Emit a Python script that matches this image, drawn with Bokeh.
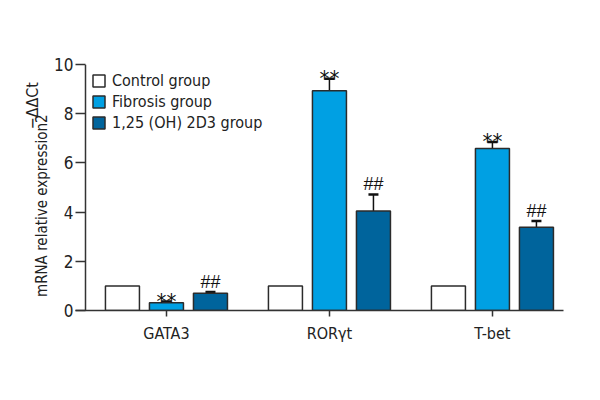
from bokeh.plotting import figure
from bokeh.models import Range1d, FixedTicker, ColumnDataSource, Whisker, TeeHead, Title
from bokeh.transform import dodge
from bokeh.core.properties import value
from bokeh.embed import file_html
from bokeh.resources import INLINE

# ---- data ----
genes = ["GATA3", "RORγt", "T-bet"]
series = ["Control group", "Fibrosis group", "1,25 (OH) 2D3 group"]
control = [1.0, 1.0, 1.0]
fibrosis = [0.32, 8.93, 6.59]
fibrosis_err = [0.05, 0.49, 0.26]
treated = [0.70, 4.04, 3.38]
treated_err = [0.05, 0.68, 0.26]
fib_marks = ["**", "**", "**"]
trt_marks = ["##", "##", "##"]
y_ticks = [0, 2, 4, 6, 8, 10]
y_title = "mRNA relative expression2"
y_title_sup = "−ΔΔCt"

FONT = "DejaVu Sans Condensed, sans-serif"
HASH_FONT = "Liberation Sans"
colors = ["#ffffff", "#00a0e3", "#00649c"]
edge = "#2b2b2b"

gi = list(range(len(genes)))
src = ColumnDataSource(dict(
    gi=gi,
    control=control,
    fibrosis=fibrosis,
    fib_hi=[v + e for v, e in zip(fibrosis, fibrosis_err)],
    treated=treated,
    trt_hi=[v + e for v, e in zip(treated, treated_err)],
    fib_marks=fib_marks,
    trt_marks=trt_marks,
))

x0, x1 = -0.558, 2.436
p = figure(width=584, height=384, output_backend="svg", toolbar_location=None,
           x_range=Range1d(x0, x1), y_range=Range1d(0, 10),
           min_border_left=75, min_border_right=21, min_border_top=64, min_border_bottom=74)
p.outline_line_color = None
p.grid.grid_line_color = None
p.background_fill_color = "white"

off = 0.27
bw = 0.2086
p.vbar(x=dodge("gi", -off, range=p.x_range), top="control", width=bw, source=src,
       fill_color=colors[0], line_color=edge, line_width=1.5, legend_label=series[0])
p.vbar(x=dodge("gi", 0, range=p.x_range), top="fibrosis", width=bw, source=src,
       fill_color=colors[1], line_color=edge, line_width=1.5, legend_label=series[1])
p.vbar(x=dodge("gi", off, range=p.x_range), top="treated", width=bw, source=src,
       fill_color=colors[2], line_color=edge, line_width=1.5, legend_label=series[2])

for col, hi, dx in [("fibrosis", "fib_hi", 0), ("treated", "trt_hi", off)]:
    w = Whisker(base=dodge("gi", dx, range=p.x_range), lower=col, upper=hi, source=src,
                line_color="#111111", line_width=1.5,
                upper_head=TeeHead(size=10, line_color="#111111", line_width=2.5),
                lower_head=None, level="underlay")
    p.add_layout(w)

p.text(x=dodge("gi", 0, range=p.x_range), y="fib_hi", text="fib_marks", source=src,
       text_font=value(FONT), text_font_size="22px", text_align="center",
       text_baseline="middle", y_offset=0, text_color="#111111")
p.text(x=dodge("gi", off, range=p.x_range), y="trt_hi", text="trt_marks", source=src,
       text_font=value(HASH_FONT), text_font_size="18px", text_align="center",
       text_baseline="bottom", y_offset=0, text_color="#111111")

# y axis line drawn at its offset position
yax_x = x0 + 10 / 163.0
p.segment(x0=[yax_x], y0=[0], x1=[yax_x], y1=[10], line_color="#333333", line_width=1.5)

xa = p.xaxis[0]
xa.ticker = FixedTicker(ticks=gi)
xa.major_label_overrides = {i: g for i, g in enumerate(genes)}
xa.major_label_text_font = FONT
xa.major_label_text_font_size = "16px"
xa.major_label_text_color = "#222222"
xa.axis_line_color = "#333333"
xa.axis_line_width = 1.5
xa.major_tick_line_color = "#333333"
xa.major_tick_line_width = 1.5
xa.major_tick_in = 0
xa.major_tick_out = 6
xa.minor_tick_line_color = None
xa.major_label_standoff = 7

ya = p.yaxis[0]
ya.ticker = FixedTicker(ticks=y_ticks)
ya.axis_line_color = None
ya.major_tick_line_color = "#333333"
ya.major_tick_line_width = 1.5
ya.major_tick_in = 10
ya.major_tick_out = 0
ya.minor_tick_line_color = None
ya.major_label_text_font = FONT
ya.major_label_text_font_size = "17px"
ya.major_label_text_color = "#222222"
ya.major_label_standoff = 2

# y axis title with raised part, as side titles
p.add_layout(Title(text=y_title, align="left", offset=13.5, standoff=2,
                   text_font=FONT, text_font_size="15px", text_font_style="normal",
                   text_color="#222222"), "left")
p.add_layout(Title(text=y_title_sup, align="left", offset=181, standoff=-24,
                   text_font=FONT, text_font_size="16px", text_font_style="normal",
                   text_color="#222222"), "left")

lg = p.legend[0]
lg.location = (16, 178)
lg.padding = 0
lg.margin = 0
lg.spacing = 2
lg.glyph_width = 15
lg.glyph_height = 15
lg.label_height = 15
lg.label_standoff = 6
lg.label_text_font = FONT
lg.label_text_font_size = "16px"
lg.label_text_color = "#222222"
lg.border_line_color = None
lg.background_fill_alpha = 0

open("out.html", "w").write(file_html(p, INLINE))
